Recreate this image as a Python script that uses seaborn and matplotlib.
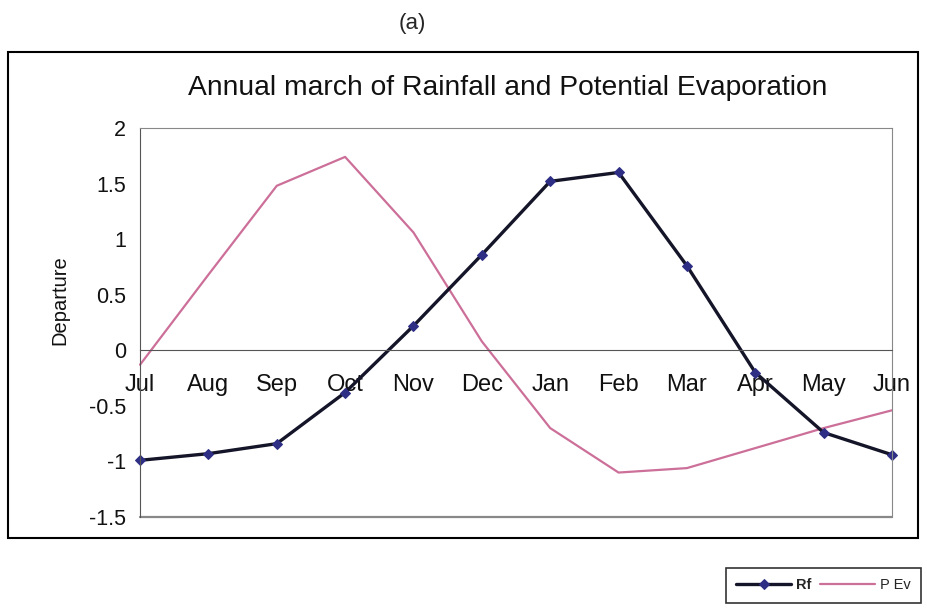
import matplotlib
matplotlib.use("Agg")
import matplotlib.pyplot as plt
import matplotlib.patches as patches
import pandas as pd
import seaborn as sns

# values
months = ['Jul', 'Aug', 'Sep', 'Oct', 'Nov', 'Dec',
          'Jan', 'Feb', 'Mar', 'Apr', 'May', 'Jun']
rf = [-0.99, -0.93, -0.84, -0.38, 0.22, 0.86, 1.52, 1.60, 0.76, -0.20, -0.74, -0.94]
pev = [-0.13, 0.68, 1.48, 1.74, 1.06, 0.08, -0.70, -1.10, -1.06, -0.88, -0.70, -0.54]
y_ticks = [2, 1.5, 1, 0.5, 0, -0.5, -1, -1.5]
y_tick_labels = ['2', '1.5', '1', '0.5', '0', '-0.5', '-1', '-1.5']

df = pd.DataFrame({'pos': range(len(months)), 'month': months, 'Rf': rf, 'P Ev': pev})

sns.set_style("white")
plt.rcParams['font.family'] = ['Liberation Sans', 'DejaVu Sans']

fig = plt.figure(figsize=(9.28, 6.13), dpi=100)
ax = fig.add_axes([0.1509, 0.1566, 0.8103, 0.6346])

sns.lineplot(x='pos', y='P Ev', data=df, ax=ax, color='#cc6f99', linewidth=1.6,
             label='P Ev', clip_on=False)
sns.lineplot(x='pos', y='Rf', data=df, ax=ax, color='#15152a', linewidth=2.4,
             marker='D', markersize=5.5, markerfacecolor='#2e2e85',
             markeredgecolor='#2e2e85', label='Rf', clip_on=False)

# x axis sits on the zero line (set before the ticks, it resets them)
ax.spines['bottom'].set_position(('data', 0))

ax.set_xlim(0, len(months) - 1)
ax.set_ylim(-1.5, 2)
ax.set_xticks(df['pos'])
ax.set_xticklabels(months)
ax.set_yticks(y_ticks)
ax.set_yticklabels(y_tick_labels)
ax.set_xlabel('')
ax.set_ylabel('')

ax.spines['bottom'].set_color('#555555')
ax.spines['left'].set_color('#555555')
for s in ['top', 'right']:
    ax.spines[s].set_color('#888888')
ax.axhline(-1.5, color='#888888', linewidth=1.6, clip_on=False)
ax.tick_params(axis='x', direction='out', length=5, pad=12, color='#555555',
               labelsize=17, labelcolor='#111111')
ax.tick_params(axis='y', direction='out', length=5, pad=5, color='#555555',
               labelsize=15.5, labelcolor='#111111')
ax.get_legend().remove()

fig.text(0.547, 0.856, 'Annual march of Rainfall and Potential Evaporation',
         ha='center', va='center', fontsize=20.3, color='#111111')
fig.text(0.444, 0.962, '(a)', ha='center', va='center', fontsize=16)
fig.text(0.065, 0.51, 'Departure', ha='center', va='center', rotation=90,
         fontsize=14.5, color='#111111')

# outer chart frame
fig.patches.append(patches.Rectangle((0.0086, 0.1223), 0.9806, 0.7928,
                                     transform=fig.transFigure, fill=False,
                                     edgecolor='black', linewidth=1.5))

handles, labels = ax.get_legend_handles_labels()
order = [labels.index('Rf'), labels.index('P Ev')]
leg = fig.legend([handles[i] for i in order], [labels[i] for i in order],
                 loc='lower right', bbox_to_anchor=(1.0, 0.005), ncol=2,
                 fontsize=10.5, frameon=True, fancybox=False, edgecolor='black',
                 handlelength=3.8, columnspacing=0.6, handletextpad=0.3,
                 borderpad=0.7)
leg.get_frame().set_linewidth(1.2)
leg.get_texts()[0].set_fontweight('bold')

fig.savefig('out.png', dpi=100)
